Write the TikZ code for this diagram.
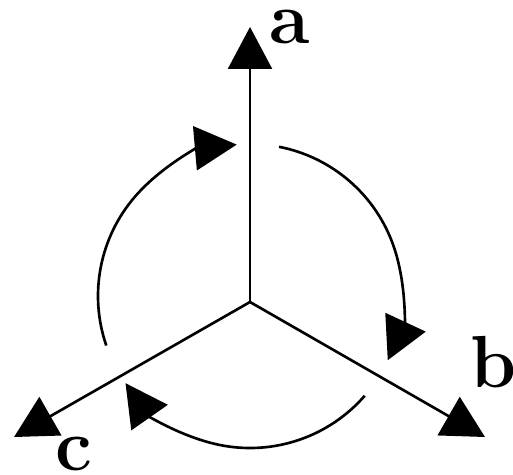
\documentclass[tikz,border=0pt]{standalone}
\usetikzlibrary{arrows.meta}

\begin{document}
\begin{tikzpicture}[x=.02cm,y=-.02cm,line width=1.5pt,
 tri/.style={-{Triangle[length=.84cm,width=.88cm]}},
 lbl/.style={anchor=base,inner sep=0pt,font=\fontsize{42}{42}\selectfont\bfseries}]
\useasboundingbox (0,0) rectangle (513,474);
\coordinate (O) at (250,302);
\coordinate (M) at (250,296);
\coordinate (A) at (250,27);
\coordinate (B) at (485,437);
\coordinate (C) at (14,437);
\foreach \t in {A,B,C} {\draw[tri] (O) -- (\t);}
\node[lbl] (la) at (290,43) {a};
\node[lbl] (lb) at (494,387) {b};
\node[lbl] (lc) at (74,470) {c};
% rotation sense
\foreach \s in {-79,41,161} {
 \draw[tri] (M) ++(\s:152) arc[start angle=\s,delta angle=104,radius=152];}
\end{tikzpicture}
\end{document}
